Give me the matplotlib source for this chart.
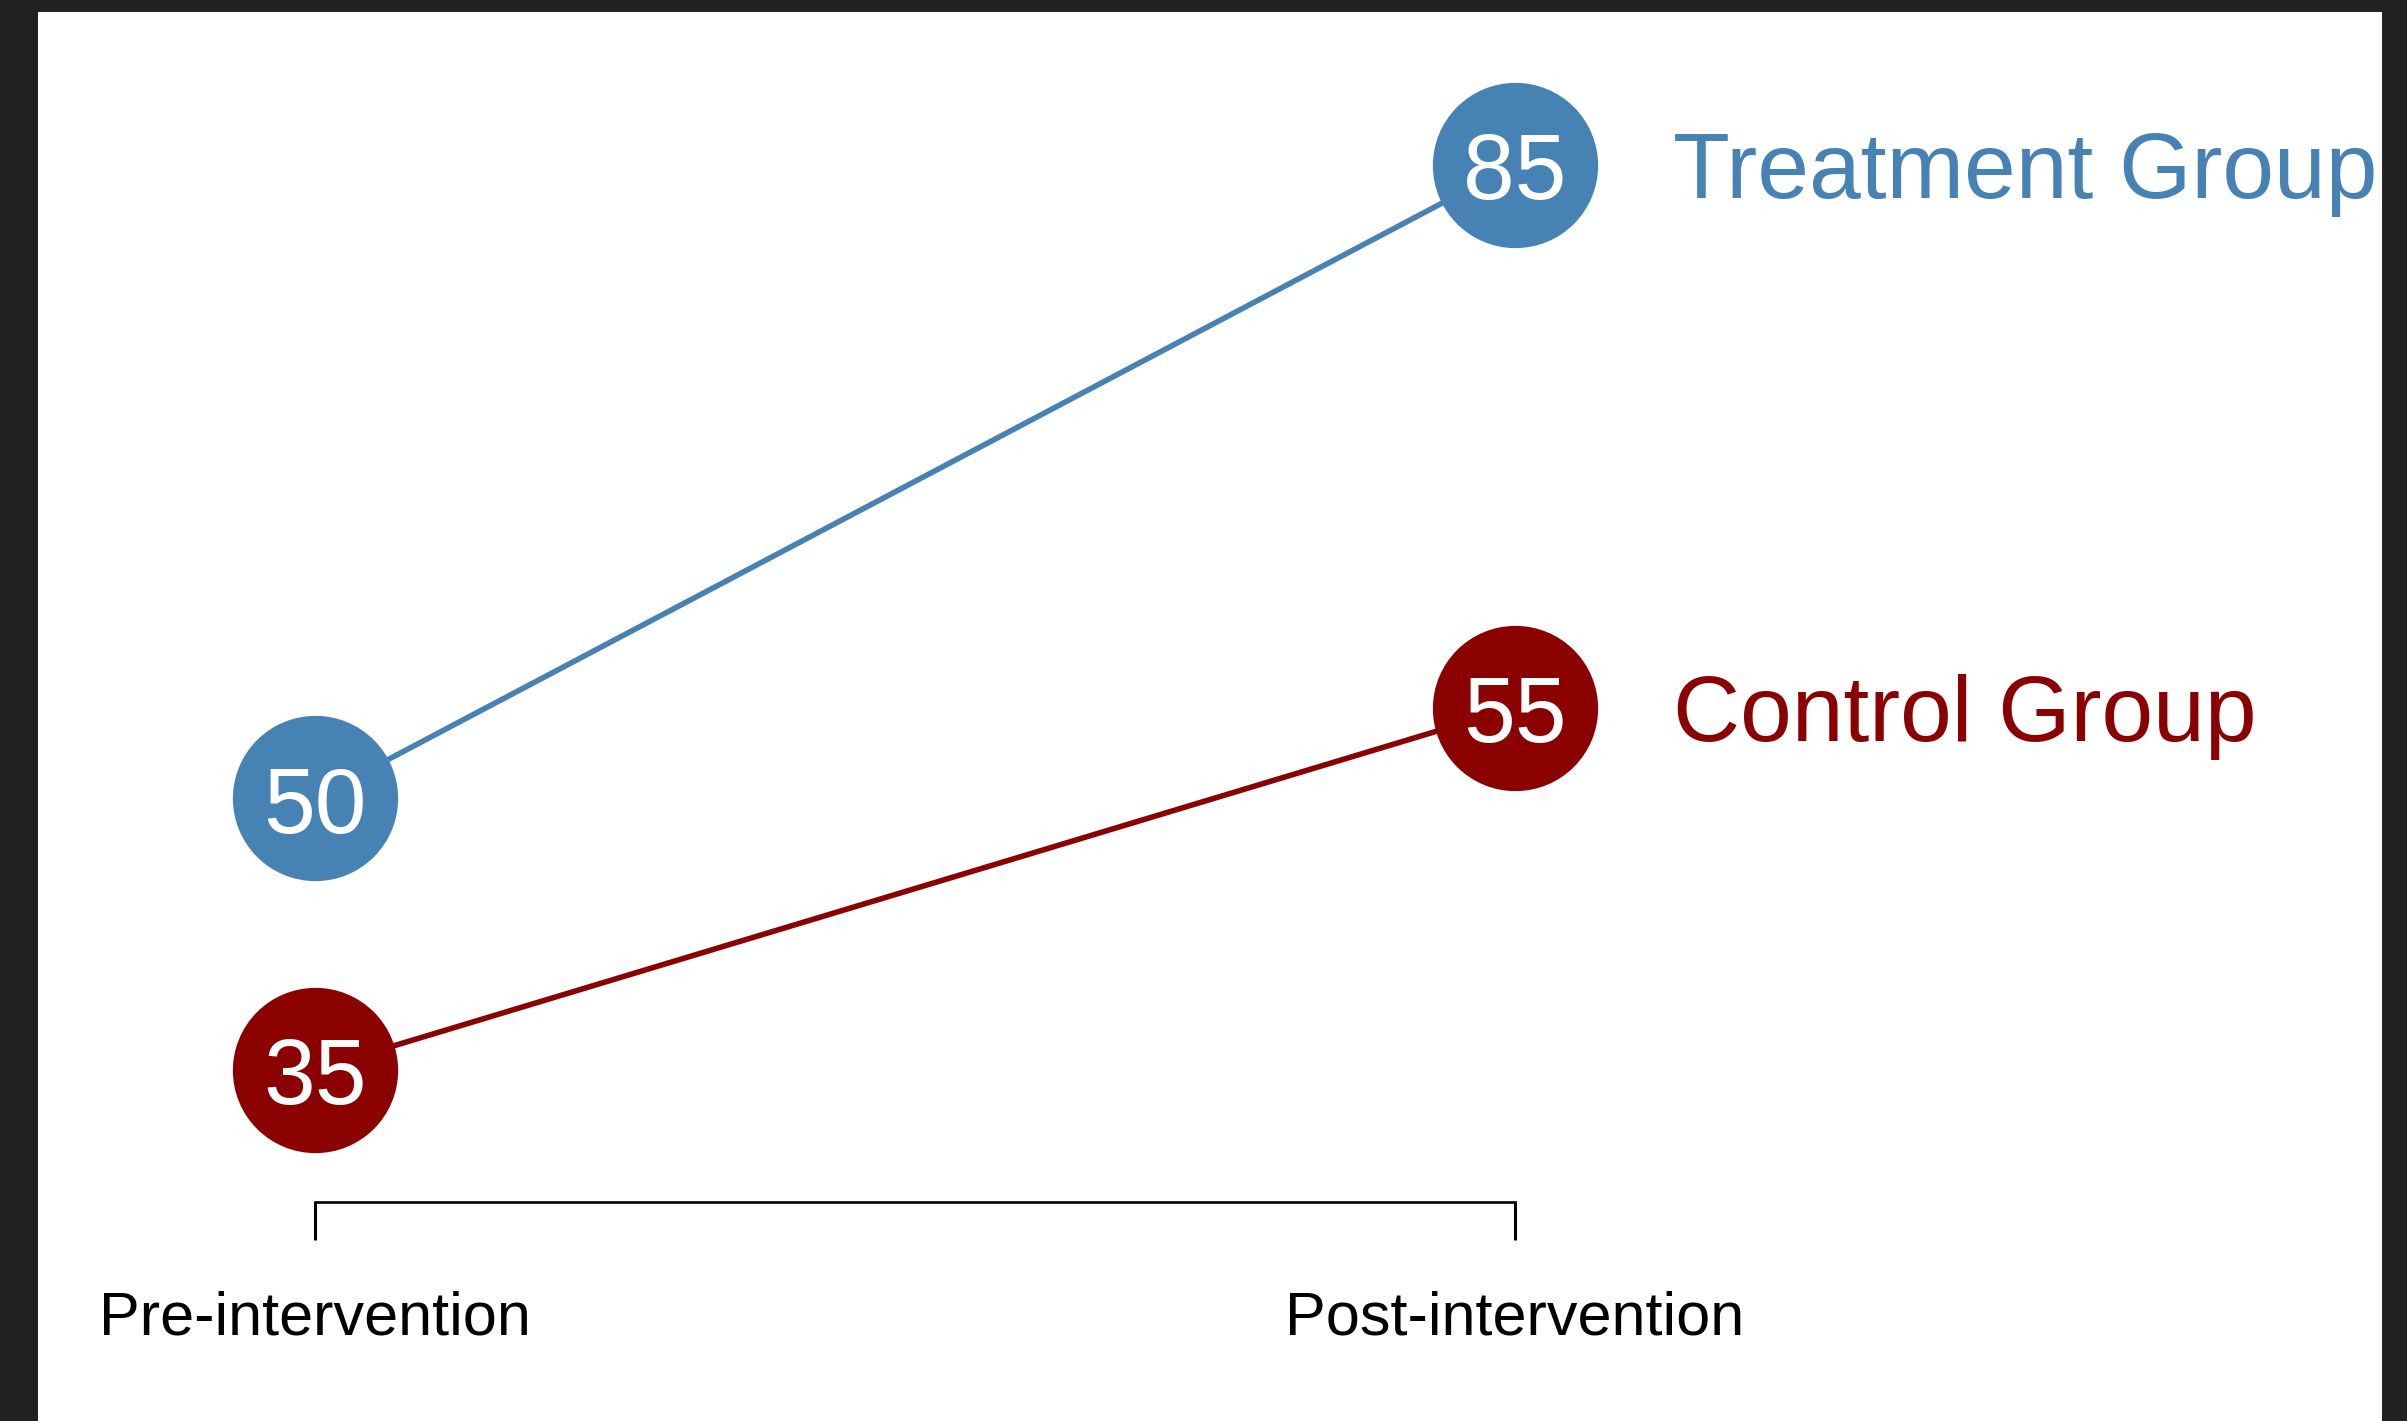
import matplotlib
matplotlib.use("Agg")
import matplotlib.pyplot as plt

# Slope chart: mean score before and after the intervention
phases = ["Pre-intervention", "Post-intervention"]
groups = ["Treatment Group", "Control Group"]
treatment = [50, 85]
control = [35, 55]
colors = {"Treatment Group": "#4682B4", "Control Group": "#8B0000"}

plt.rcParams["font.family"] = ["Liberation Sans", "DejaVu Sans"]

W, H, DPI = 2407, 1421, 100
fig = plt.figure(figsize=(W / DPI, H / DPI), dpi=DPI, facecolor="#222222")

# white plotting panel inside the dark frame
left_px, right_px, top_px = 38, 2382, 12
ax = fig.add_axes([left_px / W, 0, (right_px - left_px) / W, (H - top_px) / H])
ax.set_facecolor("white")

x = [1, 2]
ax.set_xlim(0.769, 2.7225)
ax.set_ylim(15.58, 93.43)

for name, vals in zip(groups, [treatment, control]):
    c = colors[name]
    ax.plot(x, vals, color=c, lw=4.0, zorder=2, solid_capstyle="butt")
    ax.plot(x, vals, "o", ms=119, color=c, mec="none", zorder=3)
    for xi, v in zip(x, vals):
        ax.annotate(str(v), (xi, v), xytext=(0, -25), textcoords="offset points",
                    ha="center", va="baseline", color="white", fontsize=67, zorder=4)
    ax.annotate(name, (x[-1], vals[-1]), xytext=(113.8, -24), textcoords="offset points",
                ha="left", va="baseline", color=c, fontsize=67)

# bracket-style x axis spanning only the two phases
for s in ["top", "right", "left"]:
    ax.spines[s].set_visible(False)
ax.spines["bottom"].set_bounds(1, 2)
ax.spines["bottom"].set_position(("data", 27.68))
ax.spines["bottom"].set_linewidth(1.9)
ax.set_xticks(x)
ax.set_xticklabels(phases, fontsize=44)
ax.tick_params(axis="x", direction="out", length=27, width=2.2, pad=37, colors="black")
ax.set_yticks([])

fig.savefig("out.png", dpi=DPI, facecolor=fig.get_facecolor())
